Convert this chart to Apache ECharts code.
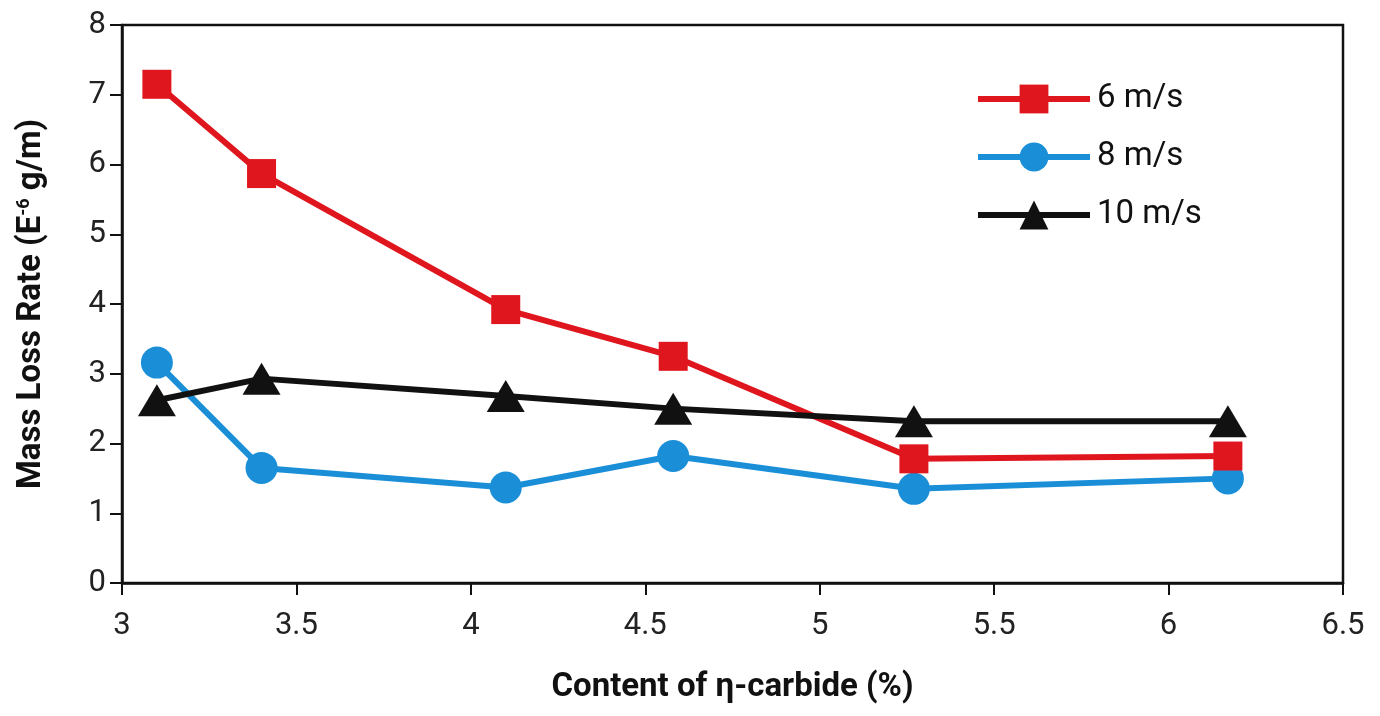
<!DOCTYPE html>
<html><head><meta charset="utf-8">
<script src="https://cdn.jsdelivr.net/npm/echarts@6/dist/echarts.min.js"></script>
<style>html,body{margin:0;padding:0;background:#fff}#c{width:1380px;height:716px}</style>
</head><body><div id="c"></div>
<script>
var xValues = [3.1, 3.4, 4.1, 4.58, 5.27, 6.17];
var s6 = [7.15, 5.87, 3.92, 3.25, 1.78, 1.82];
var s8 = [3.16, 1.65, 1.37, 1.82, 1.35, 1.5];
var s10 = [2.62, 2.93, 2.68, 2.5, 2.32, 2.32];
var seriesNames = ['6 m/s', '8 m/s', '10 m/s'];

var FONT = '"Roboto", sans-serif';
function pairs(v){ return xValues.map(function(x,i){return [x, v[i]];}); }
var chart = echarts.init(document.getElementById('c'));
chart.setOption({
  animation:false,
  backgroundColor:'#fff',
  grid:{left:122, right:37, top:25, bottom:133, show:true, borderColor:'#111', borderWidth:2.5},
  legend:{
    left:970, top:75, orient:'vertical', itemGap:20, itemWidth:112, itemHeight:36,
    lineStyle:{width:6},
    textStyle:{fontFamily:FONT, fontSize:33, color:'#111', padding:[0,0,0,2], height:38, lineHeight:38},
    data:seriesNames
  },
  xAxis:{
    type:'value', min:3, max:6.5, interval:0.5,
    name:'Content of \u03b7-carbide (%)', nameLocation:'middle', nameGap:88,
    nameTextStyle:{fontFamily:FONT, fontSize:33, fontWeight:'bold', color:'#111'},
    axisLine:{lineStyle:{color:'#111', width:2.5}},
    axisTick:{show:true, length:12, lineStyle:{color:'#111', width:2}},
    axisLabel:{fontFamily:FONT, fontSize:31, color:'#222', margin:28},
    splitLine:{show:false}
  },
  yAxis:{
    type:'value', min:0, max:8, interval:1,
    name:'{a|Mass Loss Rate (E}{s|-6}{a| g/m)}', nameLocation:'middle', nameGap:74,
    nameTextStyle:{rich:{
      a:{fontFamily:FONT, fontSize:33, fontWeight:'bold', color:'#111'},
      s:{fontFamily:FONT, fontSize:18, fontWeight:'bold', color:'#111', verticalAlign:'top', padding:[0,0,14,0]}
    }},
    axisLine:{show:true, lineStyle:{color:'#111', width:2.5}},
    axisTick:{show:true, length:12, lineStyle:{color:'#111', width:2}},
    axisLabel:{fontFamily:FONT, fontSize:31, color:'#222', margin:16},
    splitLine:{show:false}
  },
  series:[
    {name:seriesNames[0], type:'line', data:pairs(s6), symbol:'rect', symbolSize:29,
     lineStyle:{color:'#e0161e', width:6}, itemStyle:{color:'#e0161e'}, z:3},
    {name:seriesNames[1], type:'line', data:pairs(s8), symbol:'circle', symbolSize:32,
     lineStyle:{color:'#1a8fd8', width:6}, itemStyle:{color:'#1a8fd8'}, z:2},
    {name:seriesNames[2], type:'line', data:pairs(s10), symbol:'triangle', symbolSize:[38,32],
     lineStyle:{color:'#111', width:6}, itemStyle:{color:'#111'}, z:4}
  ]
});
</script></body></html>
